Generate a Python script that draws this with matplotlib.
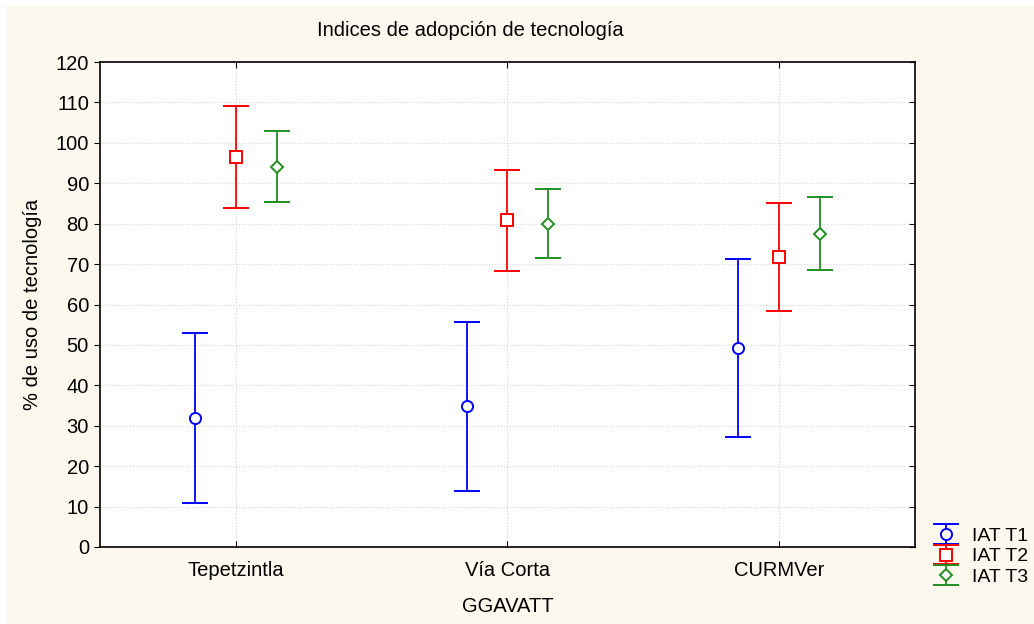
import matplotlib.pyplot as plt
import numpy as np
from matplotlib.patches import Rectangle

plt.rcParams['font.family'] = ['Liberation Sans', 'DejaVu Sans']

# data
categories = ['Tepetzintla', 'Vía Corta', 'CURMVer']
series = ['IAT T1', 'IAT T2', 'IAT T3']
means = {
    'IAT T1': [31.9, 34.9, 49.2],
    'IAT T2': [96.5, 80.9, 71.7],
    'IAT T3': [94.0, 79.9, 77.4],
}
upper = {
    'IAT T1': [52.9, 55.7, 71.3],
    'IAT T2': [109.1, 93.3, 85.1],
    'IAT T3': [102.9, 88.6, 86.6],
}
lower = {
    'IAT T1': [10.9, 13.9, 27.2],
    'IAT T2': [83.9, 68.3, 58.4],
    'IAT T3': [85.4, 71.5, 68.5],
}
colors = ['#0000ff', '#ff0000', '#1f8f1f']
markers = ['o', 's', 'D']
msizes = [8, 8, 6.5]
offsets = [-0.15, 0.0, 0.15]
bg = '#fdf8ed'
fs = 14.5

fig = plt.figure(figsize=(10.34, 6.24), dpi=100, facecolor='white')
fig.patches.append(Rectangle((5 / 1034, 0), 1, 1 - 6 / 624,
                             transform=fig.transFigure, facecolor=bg,
                             edgecolor='none', zorder=-10))
ax = fig.add_axes([100 / 1034, 1 - 547 / 624, 815 / 1034, 485 / 624])

x = np.arange(len(categories))
for i, s in enumerate(series):
    m = np.array(means[s])
    err = [m - np.array(lower[s]), np.array(upper[s]) - m]
    ax.errorbar(x + offsets[i], m, yerr=err, fmt=markers[i], color=colors[i],
                mfc='white', mec=colors[i], ms=msizes[i], mew=1.4,
                elinewidth=1.3, capsize=9.7, capthick=1.3, label=s)

ax.set_xlim(-0.5, 2.5)
ax.set_ylim(0, 120)
ax.set_yticks(np.arange(0, 121, 10))
ax.set_xticks(x)
ax.set_xticklabels(categories)
ax.grid(True, linestyle=':', color='#d4d4d4', linewidth=0.8)
ax.set_axisbelow(True)
for sp in ax.spines.values():
    sp.set_linewidth(1.2)
ax.tick_params(axis='y', direction='out', length=4, labelsize=fs,
               right=True, pad=4)
ax.tick_params(axis='x', direction='in', length=4, labelsize=fs,
               top=True, pad=10)
# right-side y ticks point inward
for t in ax.yaxis.get_major_ticks():
    t.tick2line.set_marker(0)

ax.set_xlabel('GGAVATT', fontsize=fs, labelpad=12)
ax.set_ylabel('% de uso de tecnología', fontsize=fs, labelpad=10)
fig.text(470 / 1034, 1 - 31 / 624, 'Indices de adopción de tecnología',
         ha='center', va='center', fontsize=fs)

ax.legend(loc='lower left', bbox_to_anchor=(927 / 1034, 38 / 624),
          bbox_transform=fig.transFigure, frameon=False, fontsize=14,
          handlelength=1.95, handletextpad=0.35, labelspacing=0.15,
          borderpad=0, borderaxespad=0)

fig.savefig('out.png', dpi=100, facecolor=fig.get_facecolor())
